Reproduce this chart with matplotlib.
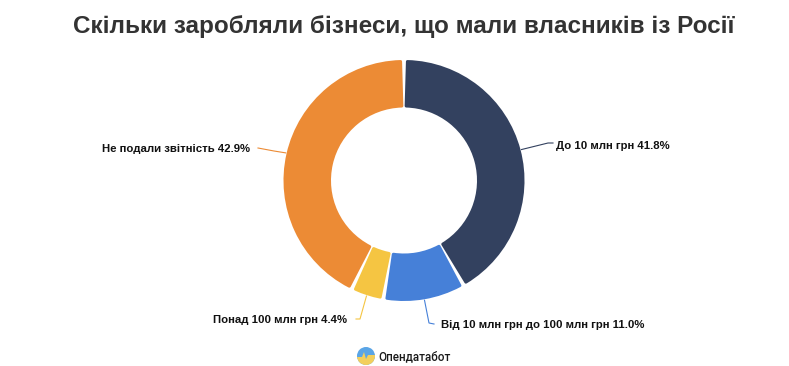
import matplotlib.pyplot as plt
import numpy as np
from matplotlib.patches import Circle, Polygon

plt.rcParams['font.family'] = ['Liberation Sans', 'DejaVu Sans']

title = 'Скільки заробляли бізнеси, що мали власників із Росії'
categories = ['До 10 млн грн', 'Від 10 млн грн до 100 млн грн', 'Понад 100 млн грн', 'Не подали звітність']
values = [41.8, 11.0, 4.4, 42.9]
colors = ['#33415f', '#4680d8', '#f5c542', '#ec8b35']

W, H = 789, 366
fig = plt.figure(figsize=(W / 100, H / 100), dpi=100)

# pie axes placed in pixels
cx, cy, R, r_in = 404, 180.5, 120.5, 73
ax = fig.add_axes([(cx - R) / W, 1 - (cy + R) / H, 2 * R / W, 2 * R / H])
wedges, _ = ax.pie(values, colors=colors, startangle=90, counterclock=False, radius=1,
                   wedgeprops=dict(width=(R - r_in) / R))
ax.set_xlim(-1, 1)
ax.set_ylim(-1, 1)
ax.set_aspect('equal')

# rounded corners: shrink each wedge a bit and stroke it in its own colour
stroke = 3.0
for w, c in zip(wedges, colors):
    w.set_theta1(w.theta1 + 1.65)
    w.set_theta2(w.theta2 - 1.65)
    w.set_radius(1 - stroke / 2 / R)
    w.set_width((R - r_in - stroke) / R)
    w.set_edgecolor(c)
    w.set_linewidth(stroke * 72 / 100)
    w.set_joinstyle('round')

# overlay in pixel coordinates for labels and logo
ov = fig.add_axes([0, 0, 1, 1], facecolor='none')
ov.set_xlim(0, W)
ov.set_ylim(H, 0)
ov.axis('off')

ov.text(404, 27, title, ha='center', va='center', fontsize=17.45, fontweight='bold', color='#333333')

# elbow and text anchor for each label
elbows = [(548, 143), (429, 323), (360, 319), (274, 151)]
ends = [(553, 143), (434, 324), (356, 319), (258, 148)]
anchors = [(556, 146, 'left'), (441, 325, 'left'), (347, 320, 'right'), (250, 149, 'right')]

angle = 90.0
for cat, val, c, e, n, a in zip(categories, values, colors, elbows, ends, anchors):
    mid = np.radians(angle - val * 3.6 / 2)
    angle -= val * 3.6
    sx, sy = cx + (R + 1) * np.cos(mid), cy - (R + 1) * np.sin(mid)
    ov.plot([sx, e[0], n[0]], [sy, e[1], n[1]], color=c, lw=0.8)
    ov.text(a[0], a[1], '%s %.1f%%' % (cat, val), ha=a[2], va='center', fontsize=8.2,
            fontweight='bold', color='#111111')

# logo
disc = Circle((366, 356), 9, facecolor='#5aa5e6', edgecolor='none')
ov.add_patch(disc)
low = Polygon([(356, 357), (362, 357), (364, 352), (366, 359), (368, 355), (376, 355),
               (376, 366), (356, 366)], facecolor='#f3cf5c', edgecolor='none')
ov.add_patch(low)
low.set_clip_path(disc)
ov.text(378, 356.5, 'Опендатабот', ha='left', va='center', fontsize=8.4, color='#1a1a1a',
        family=['Roboto', 'DejaVu Sans'], fontweight='medium')

fig.savefig('out.png', dpi=100)
